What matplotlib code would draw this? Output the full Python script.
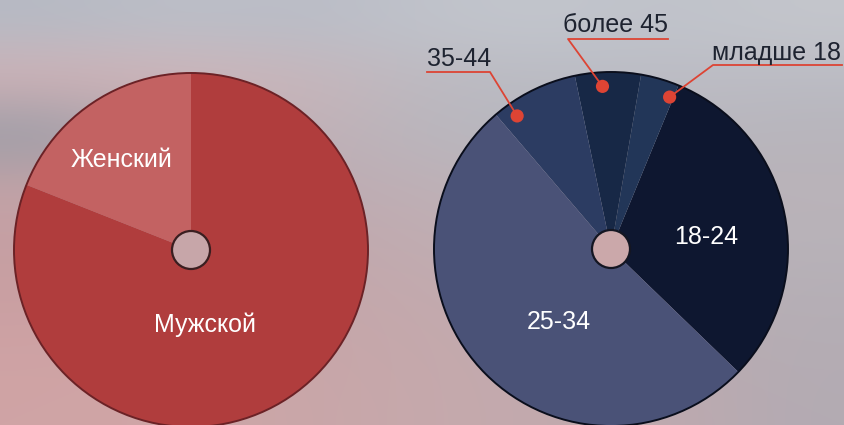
import numpy as np
import matplotlib
matplotlib.use("Agg")
import matplotlib.pyplot as plt
from matplotlib.colors import to_rgb
from matplotlib.patches import Circle

W, H = 845, 425

# gender split
gender_labels = ["Женский", "Мужской"]
gender_values = [19, 81]

# age split
age_labels = ["18-24", "младше 18", "более 45", "35-44", "25-34"]
age_values = [31, 3.5, 6, 8, 51.5]

plt.rcParams["font.family"] = ["Liberation Sans", "DejaVu Sans"]

def py(y):
   # picture rows count from the top, the axes from the bottom
   return H - y

fig = plt.figure(figsize=(W / 100, H / 100), dpi=100)
ax = fig.add_axes([0, 0, 1, 1])

# blurry photo behind the charts, faked with a soft colour grid
bg_rows = [
   ["#b6bac4", "#bcbfc8", "#b9bcc6", "#c0c3cb", "#c3c6cd", "#bfc2ca", "#c4c6cc"],
   ["#d2b1b5", "#d0b3b7", "#c8b5ba", "#bdb9c0", "#b9bbc3", "#bcbcc4", "#bbbbc3"],
   ["#979ca7", "#bfadb3", "#c2b0b6", "#b8b6bd", "#b8b8c0", "#bab7be", "#b7b5bc"],
   ["#c3a3a7", "#c4a6ab", "#bdabb2", "#bfb0b6", "#bcb4ba", "#b9b2b8", "#bab3b9"],
   ["#c59fa3", "#c6a3a7", "#c0a8ad", "#c1acb1", "#bdb1b6", "#bbb0b6", "#b8b3b9"],
   ["#c99fa2", "#caa2a5", "#c4a6aa", "#c3aaae", "#c0acb1", "#bcaeb4", "#b5afb6"],
   ["#cea2a4", "#cda4a6", "#c7a5a8", "#c5a9ac", "#c1abaf", "#bdabb0", "#b4adb4"],
   ["#d0a4a5", "#cfa6a7", "#c9a6a8", "#c6a9ac", "#c2aaae", "#bfa9ae", "#b3abb3"],
]
bg = np.array([[to_rgb(c) for c in row] for row in bg_rows])
ax.imshow(bg, extent=(0, W, 0, H), origin="upper", interpolation="bicubic",
          aspect="auto", zorder=0)

R = 177

# left pie: gender
c1 = (191, py(250))
ax.pie(gender_values, colors=["#c36262", "#b03d3d"], startangle=90,
       center=c1, radius=R, wedgeprops=dict(linewidth=0), frame=True)
ax.add_patch(Circle(c1, R, fill=False, edgecolor="#6b2226", linewidth=1.4, zorder=3))
ax.add_patch(Circle(c1, 19, facecolor="#c7a6a9", edgecolor="#3a1e20", linewidth=1.6, zorder=4))

# right pie: age
c2 = (611, py(249))
age_colors = ["#0e1730", "#223658", "#172846", "#2c3c62", "#4a5277"]
wedges, _ = ax.pie(age_values, colors=age_colors, startangle=-44,
                   center=c2, radius=R, wedgeprops=dict(linewidth=0), frame=True)
ax.add_patch(Circle(c2, R, fill=False, edgecolor="#0a0e1c", linewidth=1.4, zorder=3))
ax.add_patch(Circle(c2, 19, facecolor="#cba8aa", edgecolor="#141622", linewidth=1.6, zorder=4))

# labels inside the wedges
inner = [("Женский", 122, 160), ("Мужской", 205, 325),
         ("18-24", 706, 237), ("25-34", 559, 322)]
for txt, x, y in inner:
   ax.text(x, py(y), txt, color="white", fontsize=18, ha="center", va="center", zorder=5)

# small wedges get a red dot and a leader line to an underlined label
red = "#dd4434"
callouts = {
   # label: (angle nudge, elbow x, elbow y, line end x, text x, text baseline y)
   "35-44": (9, 490, 72, 427, 427, 66),
   "более 45": (2, 568, 39, 668, 563, 32),
   "младше 18": (-5, 713, 65, 842, 712, 60),
}
for w, lab in zip(wedges, age_labels):
   if lab not in callouts:
      continue
   nudge, ex, ey, lx, tx, ty = callouts[lab]
   ang = np.deg2rad((w.theta1 + w.theta2) / 2 + nudge)
   dx = c2[0] + 0.92 * R * np.cos(ang)
   dy = c2[1] + 0.92 * R * np.sin(ang)
   ax.plot([dx, ex, lx], [dy, py(ey), py(ey)], color=red, linewidth=1.3, zorder=5)
   ax.scatter([dx], [dy], s=90, color=red, edgecolors="none", zorder=6)
   ax.text(tx, py(ty), lab, color="#1e2330", fontsize=18, ha="left", va="baseline", zorder=6)

ax.set_xlim(0, W)
ax.set_ylim(0, H)
ax.set_aspect("auto")
ax.axis("off")

fig.savefig("out.png", dpi=100)
